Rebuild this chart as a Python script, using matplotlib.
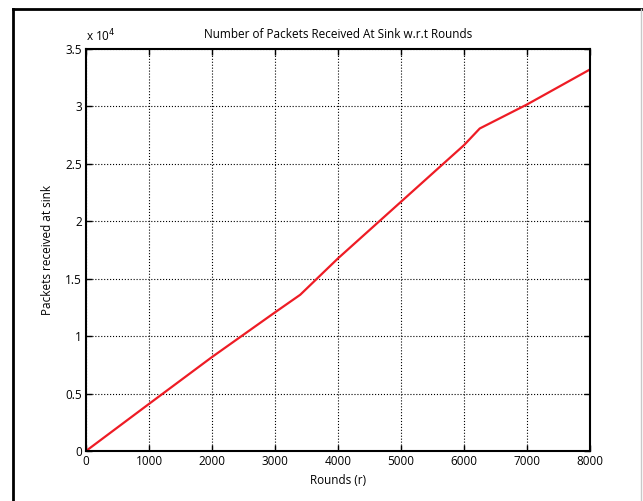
import matplotlib
matplotlib.use('Agg')
import matplotlib.pyplot as plt
from matplotlib.lines import Line2D
from matplotlib.ticker import FuncFormatter

# values
rounds = [0, 1000, 2000, 3000, 3400, 4000, 5000, 6000, 6250, 7000, 8000]
packets = [0, 4100, 8180, 12070, 13600, 16770, 21700, 26630, 28080, 30170, 33220]

x_ticks = [0, 1000, 2000, 3000, 4000, 5000, 6000, 7000, 8000]
y_ticks = [0, 5000, 10000, 15000, 20000, 25000, 30000, 35000]

plt.rcParams['font.family'] = ['Open Sans', 'DejaVu Sans']
plt.rcParams['font.size'] = 8.5

fig = plt.figure(figsize=(6.43, 5.01), dpi=100)
ax = fig.add_axes([0.1337, 0.0998, 0.7839, 0.8024])

ax.plot(rounds, packets, color='#ee1c25', linewidth=1.6)

ax.set_xlim(0, 8000)
ax.set_ylim(0, 35000)
ax.set_xticks(x_ticks)
ax.set_yticks(y_ticks)
ax.yaxis.set_major_formatter(FuncFormatter(lambda v, p: f'{v / 1e4:g}'))
ax.tick_params(direction='in', top=True, right=True, length=4, width=1,
               colors='black', labelsize=8.5, pad=3)
for s in ax.spines.values():
    s.set_linewidth(1.5)
ax.grid(True, color='black', linestyle=':', linewidth=0.8)

ax.set_title('Number of Packets Received At Sink w.r.t Rounds', fontsize=8.5, pad=8)
ax.set_xlabel('Rounds (r)', fontsize=8.5, labelpad=4)
ax.set_ylabel('Packets received at sink', fontsize=8.5, labelpad=8)
ax.text(0.0, 1.012, r'x 10$^4$', transform=ax.transAxes, fontsize=8.5,
        ha='left', va='bottom')

# frame around the figure
fig.add_artist(Line2D([13 / 643, 13 / 643], [0, 1 - 9 / 501], color='black', linewidth=2))
fig.add_artist(Line2D([13 / 643, 1], [1 - 9 / 501, 1 - 9 / 501], color='black', linewidth=2))
fig.add_artist(Line2D([641 / 643, 641 / 643], [0, 1 - 9 / 501], color='#c8c8c8', linewidth=1))

fig.savefig('out.png', dpi=100)
